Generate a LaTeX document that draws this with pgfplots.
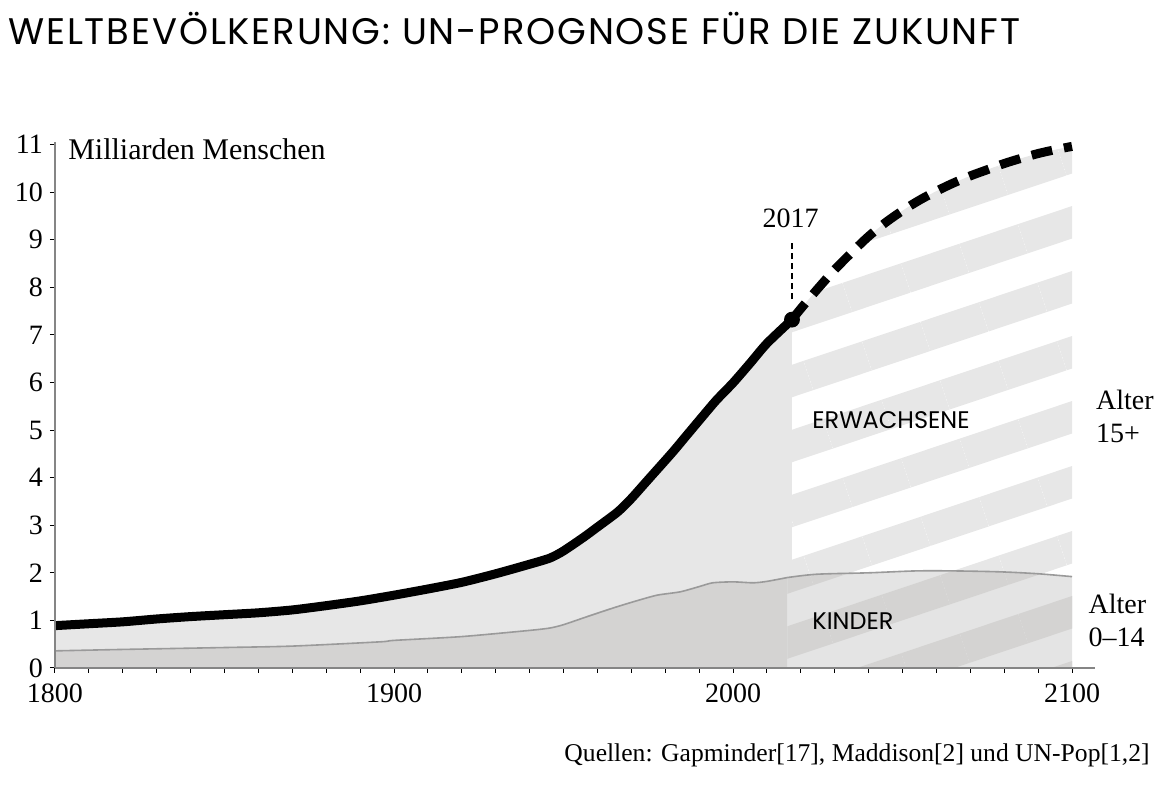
\documentclass[border=0pt]{standalone}
\usepackage{pgfplots}
\pgfplotsset{compat=1.18}
\usepackage{pgfplotstable}
\usetikzlibrary{patterns.meta}
\usepackage{fontspec}
\setmainfont{Liberation Serif}
\newfontfamily\futura{Poppins}

\definecolor{adultgray}{HTML}{E7E7E7}
\definecolor{kidsgray}{HTML}{D4D3D2}
\definecolor{kidslight}{HTML}{E4E4E4}
\definecolor{kidsline}{HTML}{9A9A9A}
\definecolor{axisgray}{HTML}{858585}

% Weltbevoelkerung insgesamt (Mrd.), bis 2017
\pgfplotstableread{
year pop
1800 0.89
1810 0.93
1820 0.97
1830 1.03
1840 1.08
1850 1.12
1860 1.16
1870 1.22
1880 1.31
1890 1.41
1900 1.53
1910 1.66
1920 1.80
1930 1.98
1940 2.18
1946 2.31
1950 2.46
1956 2.75
1960 2.96
1966 3.28
1970 3.56
1975 3.96
1982 4.52
1986 4.86
1990 5.20
1995 5.62
2000 5.99
2005 6.40
2010 6.82
2017.4 7.32
}\totalhist

% UN-Prognose
\pgfplotstableread{
year pop
2017.4 7.32
2020 7.55
2025 7.97
2030 8.37
2035 8.73
2040 9.07
2045 9.36
2050 9.61
2055 9.83
2060 10.02
2065 10.19
2070 10.34
2075 10.47
2080 10.60
2085 10.71
2090 10.81
2095 10.89
2100 10.96
}\totalproj

% Kinder 0-14
\pgfplotstableread{
year pop
1800 0.36
1820 0.39
1850 0.43
1870 0.46
1896 0.55
1900 0.58
1920 0.66
1940 0.79
1946 0.84
1950 0.91
1957 1.08
1964.6 1.26
1971 1.40
1977.6 1.53
1984.4 1.60
1990 1.71
1994 1.79
2000 1.81
2006 1.79
2010 1.82
2016 1.90
}\kidshist

\pgfplotstableread{
year pop
2016 1.90
2024.7 1.97
2040 2.00
2054 2.04
2065 2.04
2079 2.02
2090 1.98
2100 1.92
}\kidsproj

\begin{document}
\begin{tikzpicture}
\useasboundingbox (0,0) rectangle (582.5pt,392.5pt);
\node[anchor=base west, inner sep=0] at (4pt,370pt)
  {\futura\addfontfeatures{LetterSpace=5}\fontsize{18.5pt}{20pt}\selectfont WELTBEVÖLKERUNG: UN-PROGNOSE FÜR DIE ZUKUNFT};
\node[anchor=base east, inner sep=0] at (575pt,11.5pt)
  {\fontsize{12.8pt}{15pt}\selectfont Quellen: Gapminder[17], Maddison[2] und UN-Pop[1,2]};

\begin{axis}[
  at={(27.5pt,58.5pt)}, anchor=south west,
  scale only axis, width=508.5pt, height=261.75pt,
  xmin=1800, xmax=2100, ymin=0, ymax=11,
  clip=false, axis on top,
  axis x line=bottom, axis y line=left,
  axis line style={-, draw=axisgray, line width=1.2pt},
  x axis line style={-, shorten >=-11.5pt},
  y axis line style={-, shorten >=-1pt},
  xtick={1800,1900,2000,2100}, xticklabels={1800,1900,2000,2100},
  minor x tick num=9,
  ytick={0,1,...,11},
  tick align=outside, major tick length=2.5pt, minor tick length=2.5pt,
  tick style={black, line width=0.5pt},
  ticklabel style={font=\fontsize{14pt}{15pt}\selectfont},
  xticklabel style={yshift=-2pt},
  /pgf/number format/assume math mode=true,
]
% Flaechen
\addplot[draw=none, fill=adultgray, smooth, tension=0.4] table[x=year,y=pop]{\totalhist} \closedcycle;
\addplot[draw=none, smooth, pattern={Lines[angle=18.5, distance=30.82pt, line width=15.41pt, yshift=4.5pt]}, pattern color=adultgray]
  table[x=year,y=pop]{\totalproj} \closedcycle;
\addplot[draw=none, fill=kidsgray, smooth, tension=0.4] table[x=year,y=pop]{\kidshist} \closedcycle;
\addplot[draw=none, smooth, fill=kidslight, postaction={pattern={Lines[angle=18.5, distance=30.82pt, line width=15.41pt, yshift=4.5pt]}, pattern color=kidsgray}]
  table[x=year,y=pop]{\kidsproj} \closedcycle;
% Linien
\addplot[kidsline, line width=0.8pt, smooth, tension=0.4] table[x=year,y=pop]{\kidshist};
\addplot[kidsline, line width=0.8pt, smooth] table[x=year,y=pop]{\kidsproj};
\addplot[black, line width=4.5pt, line join=round, smooth, tension=0.4] table[x=year,y=pop]{\totalhist};
\addplot[black, line width=4.5pt, smooth, dash pattern=on 10.5pt off 6pt] table[x=year,y=pop]{\totalproj};
\addplot[black, line width=0.7pt, dash pattern=on 3pt off 2pt] coordinates {(2017.4,7.75) (2017.4,9.0)};
\addplot[only marks, mark=*, mark size=3.75pt, black] coordinates {(2017.4,7.32)};
% Beschriftungen
\node[font=\fontsize{14pt}{15pt}\selectfont] at (axis cs:2017,9.45) {2017};
\node[anchor=west, inner sep=0, font=\fontsize{15pt}{16pt}\selectfont] at (axis cs:1803.8,10.9) {Milliarden Menschen};
\node[anchor=west, inner sep=0, font=\futura\fontsize{12pt}{14pt}\selectfont] at (axis cs:2023.3,5.21) {ERWACHSENE};
\node[anchor=west, inner sep=0, font=\futura\fontsize{12pt}{14pt}\selectfont] at (axis cs:2023.3,0.99) {KINDER};
\node[anchor=west, inner sep=0, align=left, font=\fontsize{14pt}{16.5pt}\selectfont] at (axis cs:2107,5.28) {Alter\\15+};
\node[anchor=west, inner sep=0, align=left, font=\fontsize{14pt}{16.5pt}\selectfont] at (axis cs:2104.8,0.99) {Alter\\0–14};
\end{axis}
\end{tikzpicture}
\end{document}
